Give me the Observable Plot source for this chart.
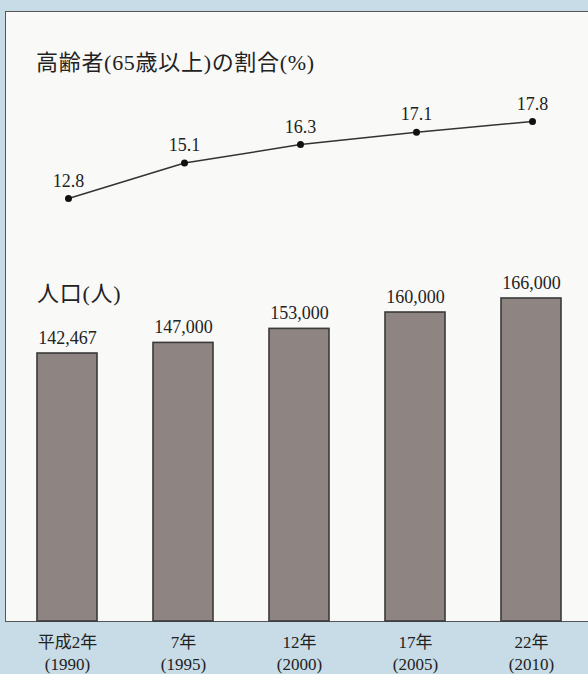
<!DOCTYPE html>
<html><head><meta charset="utf-8">
<script src="https://cdn.jsdelivr.net/npm/d3@7"></script>
<script src="https://cdn.jsdelivr.net/npm/@observablehq/plot@0.6"></script>
<style>
html,body{margin:0;padding:0;}
#wrap{position:relative;width:588px;height:674px;overflow:hidden;background:#c7dce6;font-family:"Liberation Serif","Noto Sans CJK JP",serif;}
#panel{position:absolute;left:5px;top:11px;width:620px;height:609px;background:#f9f9f8;border:1.5px solid #555;}
.layer{position:absolute;left:0;top:0;}
.ttl{position:absolute;font-size:22px;color:#222;white-space:nowrap;letter-spacing:0.7px;}
</style></head>
<body>
<div id="wrap">
  <div id="panel"></div>
  <div class="ttl" style="left:36px;top:44px;">高齢者(65歳以上)の割合(%)</div>
  <div class="ttl" style="left:37px;top:275px;">人口(人)</div>
</div>
<script>
const years = ["平成2年\n(1990)", "7年\n(1995)", "12年\n(2000)", "17年\n(2005)", "22年\n(2010)"];
const population = [142467, 147000, 153000, 160000, 166000];
const elderlyShare = [12.8, 15.1, 16.3, 17.1, 17.8];
const popLabels = ["142,467", "147,000", "153,000", "160,000", "166,000"];
const shareLabels = ["12.8", "15.1", "16.3", "17.1", "17.8"];

const rows = years.map((y, i) => ({year: y, pop: population[i], share: elderlyShare[i], popLabel: popLabels[i], shareLabel: shareLabels[i]}));

const xOpts = {domain: years, range: [7.5, 591.5], paddingInner: 0.48, paddingOuter: 0.24, align: 0.5};
const numFont = "Liberation Serif";
const mixFont = "'Liberation Serif','Noto Sans CJK JP',serif";

const bars = Plot.plot({
  width: 588, height: 674,
  marginTop: 0, marginBottom: 0, marginLeft: 0, marginRight: 0,
  style: {background: "transparent", overflow: "visible"},
  x: xOpts,
  y: {domain: [27800, 166000], range: [621, 298], axis: null},
  marks: [
    Plot.barY(rows, {x: "year", y1: 27800, y2: "pop", fill: "#8e8582", stroke: "#3a3a3a", strokeWidth: 1.6}),
    Plot.text(rows, {x: "year", y: "pop", text: "popLabel", dy: -10, lineAnchor: "bottom", fontSize: 18, fontFamily: numFont, fill: "#222"}),
    Plot.axisX({tickSize: 0, tickPadding: 11, fontSize: 17, fontFamily: mixFont, lineHeight: 1.28, color: "#222", label: null, anchor: "bottom", y: 27800})
  ]
});
bars.classList.add("layer");
document.getElementById("wrap").appendChild(bars);

const line = Plot.plot({
  width: 588, height: 674,
  marginTop: 0, marginBottom: 0, marginLeft: 0, marginRight: 0,
  style: {background: "transparent", overflow: "visible"},
  x: {...xOpts, axis: null},
  y: {domain: [12.8, 17.8], range: [198, 121], axis: null},
  marks: [
    Plot.line(rows, {x: "year", y: "share", stroke: "#333", strokeWidth: 1.5}),
    Plot.dot(rows, {x: "year", y: "share", r: 3.5, fill: "#111", stroke: "none"}),
    Plot.text(rows, {x: "year", y: "share", text: "shareLabel", dy: -12, lineAnchor: "bottom", fontSize: 18, fontFamily: numFont, fill: "#222"})
  ]
});
line.classList.add("layer");
document.getElementById("wrap").appendChild(line);
</script>
</body></html>
